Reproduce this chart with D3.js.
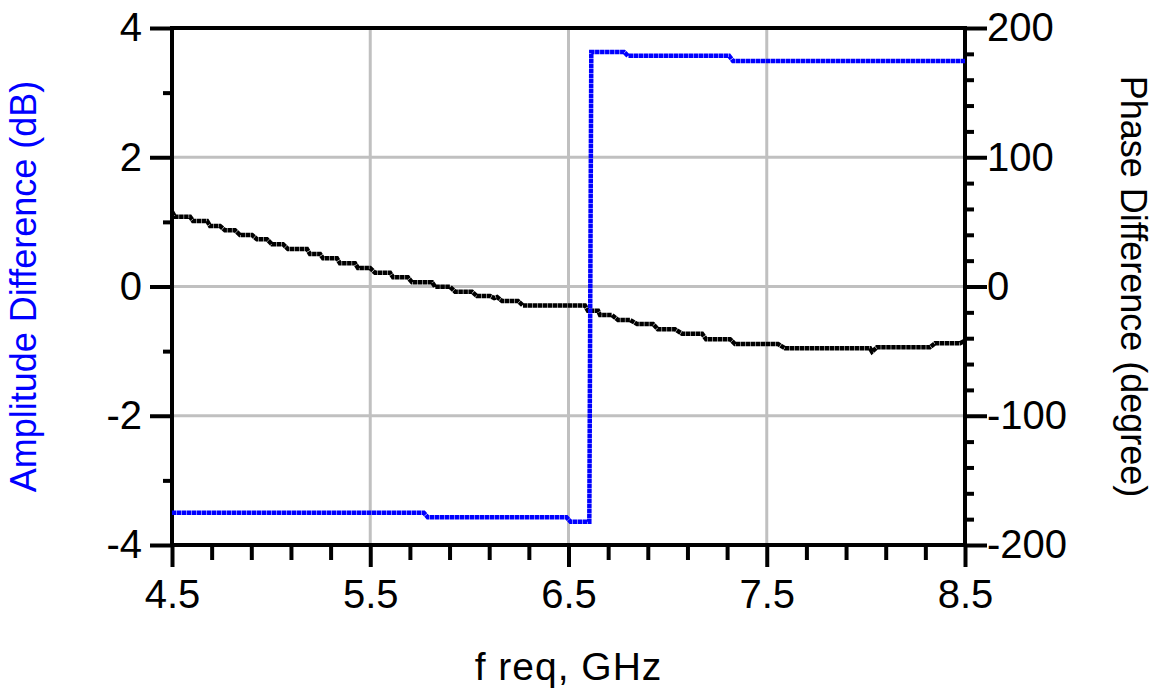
<!DOCTYPE html>
<html>

<head>
    <meta charset="utf-8">
    <style>
        body {
            margin: 0;
            background: #fff;
        }

        svg {
            font-family: 'Liberation Sans', Arial, sans-serif;
        }

        .axis .domain {
            display: none;
        }

        .axis .tick line {
            stroke: #000;
            stroke-width: 4px;
        }

        .axis .tick text {
            font-size: 40px;
            fill: #000;
        }
    </style>
</head>

<body>
    <svg width="1162" height="688"></svg>
</body>

<script src="https://d3js.org/d3.v7.min.js"></script>

<script>
    // amplitude difference (dB), left axis - corners of the stepped trace
    let ampFreq = [4.5, 5.77, 5.79, 6.49, 6.51, 6.605, 6.615, 6.78, 6.80, 7.31, 7.33, 8.5]
    let ampDb = [-3.50, -3.50, -3.57, -3.57, -3.64, -3.64, 3.63, 3.63, 3.57, 3.57, 3.49, 3.49]

    // phase difference (degree), right axis - corners of the stepped trace
    let phaseFreq = [4.5, 4.515, 4.591, 4.606, 4.677, 4.692, 4.742, 4.767, 4.818, 4.843, 4.904,
        4.929, 4.979, 5.004, 5.060, 5.085, 5.181, 5.196, 5.247, 5.262, 5.332, 5.347, 5.423,
        5.438, 5.499, 5.524, 5.600, 5.615, 5.690, 5.711, 5.812, 5.827, 5.902, 5.928, 6.013,
        6.038, 6.104, 6.125, 6.140, 6.165, 6.245, 6.270, 6.583, 6.598, 6.649, 6.659, 6.719,
        6.750, 6.810, 6.846, 6.926, 6.951, 7.037, 7.073, 7.174, 7.194, 7.315, 7.340, 7.557,
        7.592, 8.021, 8.031, 8.056, 8.323, 8.349, 8.475, 8.5]
    let phaseDeg = [57.9, 54.0, 54.0, 50.7, 50.7, 46.8, 46.8, 43.5, 43.5, 39.8, 39.8,
        36.5, 36.5, 32.7, 32.7, 29.0, 29.0, 25.1, 25.1, 21.8, 21.8, 18.0, 18.0,
        14.3, 14.3, 10.7, 10.7, 7.1, 7.1, 3.2, 3.2, -0.2, -0.2, -4.0, -4.0,
        -7.4, -7.4, -9.0, -8.2, -11.2, -11.2, -14.7, -14.7, -18.7, -18.7, -22.1, -22.1,
        -25.9, -25.9, -29.0, -29.0, -33.1, -33.1, -36.5, -36.5, -40.8, -40.8, -44.5, -44.5,
        -47.8, -47.8, -50.4, -47.0, -47.0, -43.9, -43.9, -42.0]

    let freqTicks = [4.5, 5.5, 6.5, 7.5, 8.5]
    let ampTicks = [-4, -2, 0, 2, 4]
    let phaseTicks = [-200, -100, 0, 100, 200]

    let margin = { top: 28, right: 197, bottom: 143, left: 172 };
    let width = 1162;
    let height = 688;

    let svg = d3.select("svg")

    let x = d3.scaleLinear()
        .domain([4.5, 8.5])
        .range([margin.left, width - margin.right])

    let yL = d3.scaleLinear()
        .domain([-4, 4])
        .range([height - margin.bottom, margin.top])

    let yR = d3.scaleLinear()
        .domain([-200, 200])
        .range([height - margin.bottom, margin.top])

    let x0 = margin.left
    let x1 = width - margin.right
    let yTop = margin.top
    let yBot = height - margin.bottom

    // plain hyphen minus, like the original plot
    let plain = d => String(d)

    // grid
    let grid = svg.append("g")
        .style("stroke", "#c0c0c0")
        .style("stroke-width", "3px")

    grid.selectAll(".vg")
        .data(freqTicks.slice(1, -1))
        .join("line")
        .attr("x1", d => x(d))
        .attr("x2", d => x(d))
        .attr("y1", yTop)
        .attr("y2", yBot)

    grid.selectAll(".hg")
        .data(ampTicks.slice(1, -1))
        .join("line")
        .attr("x1", x0)
        .attr("x2", x1)
        .attr("y1", d => yL(d))
        .attr("y2", d => yL(d))

    // minor ticks
    let minorX = d3.range(0, 21).map(i => 4.5 + i * 0.2).filter(d => !freqTicks.some(t => Math.abs(t - d) < 1e-6))
    let minorL = [-3, -1, 1, 3]
    let minorR = d3.range(-180, 200, 20).filter(d => d % 100 != 0)

    svg.append("g")
        .attr("class", "axis")
        .attr("transform", `translate(0,${yBot})`)
        .call(d3.axisBottom(x).tickValues(minorX).tickSize(15).tickFormat(""))

    svg.append("g")
        .attr("class", "axis")
        .attr("transform", `translate(${x0},0)`)
        .call(d3.axisLeft(yL).tickValues(minorL).tickSize(9).tickFormat(""))

    svg.append("g")
        .attr("class", "axis")
        .attr("transform", `translate(${x1},0)`)
        .call(d3.axisRight(yR).tickValues(minorR).tickSize(9).tickFormat(""))

    // major ticks + labels
    svg.append("g")
        .attr("class", "axis")
        .attr("transform", `translate(0,${yBot})`)
        .call(d3.axisBottom(x).tickValues(freqTicks).tickSize(22).tickPadding(13).tickFormat(d3.format(".1f")))

    svg.append("g")
        .attr("class", "axis")
        .attr("transform", `translate(${x0},0)`)
        .call(d3.axisLeft(yL).tickValues(ampTicks).tickSize(22).tickPadding(8).tickFormat(plain))

    svg.append("g")
        .attr("class", "axis")
        .attr("transform", `translate(${x1},0)`)
        .call(d3.axisRight(yR).tickValues(phaseTicks).tickSize(22).tickPadding(0).tickFormat(plain))

    // frame
    svg.append("rect")
        .attr("x", x0)
        .attr("y", yTop)
        .attr("width", x1 - x0)
        .attr("height", yBot - yTop)
        .style("fill", "none")
        .style("stroke", "#000")
        .style("stroke-width", "4px")

    // traces
    let ampLine = d3.line()
        .x(d => x(d[0]))
        .y(d => yL(d[1]))

    let phaseLine = d3.line()
        .x(d => x(d[0]))
        .y(d => yR(d[1]))

    let phaseData = phaseFreq.map((f, i) => [f, phaseDeg[i]])
    let ampData = ampFreq.map((f, i) => [f, ampDb[i]])

    svg.append("path")
        .attr("d", phaseLine(phaseData))
        .style("fill", "none")
        .style("stroke", "#000")
        .style("stroke-width", "4.5px")
        .style("stroke-dasharray", "4.5,0.5")

    svg.append("path")
        .attr("d", ampLine(ampData))
        .style("fill", "none")
        .style("stroke", "#0000ff")
        .style("stroke-width", "4.5px")
        .style("stroke-dasharray", "4.5,0.5")

    // axis titles
    svg.append("text")
        .attr("transform", `translate(36,${(yTop + yBot) / 2}) rotate(-90)`)
        .attr("text-anchor", "middle")
        .style("font-size", "36px")
        .style("fill", "#0000ff")
        .text("Amplitude Difference (dB)")

    svg.append("text")
        .attr("transform", `translate(1121,${(yTop + yBot) / 2}) rotate(90)`)
        .attr("text-anchor", "middle")
        .style("font-size", "36px")
        .style("fill", "#000")
        .text("Phase Difference (degree)")

    svg.append("text")
        .attr("x", (x0 + x1) / 2)
        .attr("y", 680)
        .attr("text-anchor", "middle")
        .style("font-size", "39px")
        .style("letter-spacing", "1px")
        .style("fill", "#000")
        .text("f req, GHz")
</script>

</html>
